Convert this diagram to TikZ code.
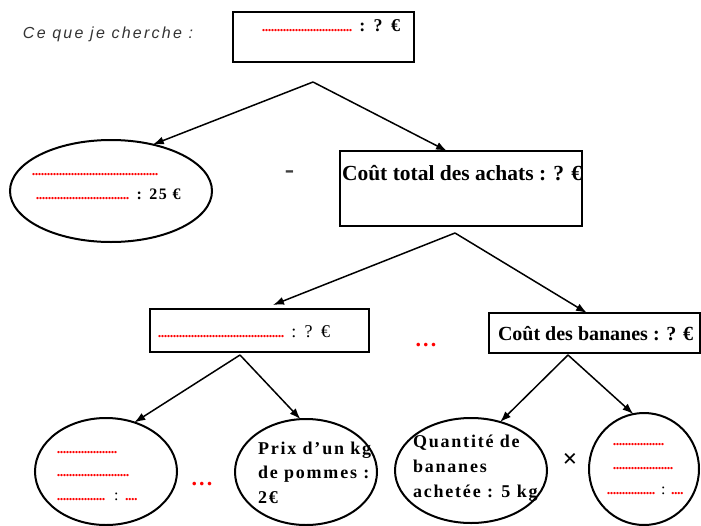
\documentclass[tikz,border=0pt]{standalone}
\usepackage{fontspec}
\setmainfont{Liberation Serif}
\newfontfamily\lsf[LetterSpace=10]{Liberation Serif}
\newfontfamily\itf[LetterSpace=14]{Liberation Sans}
\usetikzlibrary{arrows.meta,shapes.geometric}
\newcommand{\rdots}[1]{{\color{red}\bfseries\fontsize{14}{14}\selectfont\hbox to #1{\leaders\hbox to 3pt{\hss.\hss}\hfill}}}
\tikzset{
  box/.style={draw, rectangle, line width=2pt, inner sep=0pt, outer sep=0pt},
  ell/.style={draw, ellipse, line width=2pt, inner sep=0pt, outer sep=0pt},
  lbl/.style={anchor=base west, inner sep=0pt, outer sep=0pt},
  arr/.style={-{Latex[length=11pt,width=8pt]}, line width=1.5pt},
  bigb/.style={font=\lsf\bfseries\fontsize{18}{24.5}\selectfont},
}
\begin{document}
\begin{tikzpicture}[x=1pt,y=-1pt]
\useasboundingbox (0,0) rectangle (701,525);
% shapes
\node[box, line width=2.5pt, minimum width=181pt, minimum height=50pt] (b1) at (323.5,37) {};
\node[ell, minimum width=202pt, minimum height=102pt] (e1) at (111,191) {};
\node[box, minimum width=242pt, minimum height=75pt] (b2) at (461,188.5) {};
\node[box, minimum width=219pt, minimum height=43pt] (b3) at (259.5,330.5) {};
\node[box, minimum width=211pt, minimum height=40pt] (b4) at (594.5,333) {};
\node[ell, minimum width=142pt, minimum height=107pt] (e5) at (106,471.5) {};
\node[ell, minimum width=142pt, minimum height=106pt] (e6) at (306,472) {};
\node[ell, minimum width=152pt, minimum height=105pt] (e7) at (471,470.5) {};
\node[ell, minimum width=110pt, minimum height=112pt] (e8) at (644,469) {};
% branch points
\coordinate (a1) at (313,82);
\coordinate (a2) at (455,233);
\coordinate (a3) at (240,355);
\coordinate (a4) at (568,355);
% connectors
\draw[arr] (a1) -- (e1.48);
\draw[arr] (a1) -- ([xshift=-14pt]b2.north);
\draw[arr] (a2) -- ([xshift=13.5pt,yshift=4pt]b3.north);
\draw[arr] (a2) -- ([xshift=-7.5pt]b4.north);
\draw[arr] (a3) -- (e5.60);
\draw[arr] (a3) -- (e6.96);
\draw[arr] (a4) -- (e7.59);
\draw[arr] (a4) -- (e8.101);
% texts
\node[lbl, font=\itf\itshape\fontsize{16}{16}\selectfont, text=black!80] (q) at (23,38) {Ce que je cherche :};
\node[lbl, bigb] (t1) at (262,31) {\rdots{91pt} : ? €};
\node[lbl] (t2) at (32,175) {\rdots{127pt}};
\node[lbl, font=\lsf\bfseries\fontsize{16}{16}\selectfont] (t3) at (36,199) {\rdots{95pt} : 25 €};
\node[anchor=base, inner sep=0pt, text=black!75, font=\bfseries\fontsize{28}{28}\selectfont] (minus) at (289.5,178) {-};
\node[lbl, font=\bfseries\fontsize{21.5}{21.5}\selectfont] (t4) at (342,180) {Coût total des achats : ? €};
\node[lbl, font=\lsf\fontsize{18}{18}\selectfont] (t5) at (158,337) {\rdots{127pt} : ? €};
\node[anchor=base, inner sep=0pt, text=red, font=\lsf\bfseries\fontsize{22}{22}\selectfont] (rd1) at (426,346) {...};
\node[lbl, font=\bfseries\fontsize{20}{20}\selectfont] (t6) at (498,340) {Coût des bananes : ? €};
\node[lbl, align=left, font=\fontsize{16}{23.5}\selectfont] (t7) at (57,500) {\rdots{62pt}\\\rdots{74pt}\\\rdots{50pt}\hspace{7pt}:\hspace{7pt}\rdots{14pt}};
\node[anchor=base, inner sep=0pt, text=red, font=\lsf\bfseries\fontsize{22}{22}\selectfont] (rd2) at (202,485) {...};
\node[lbl, align=left, bigb] (t8) at (258,503) {Prix d’un kg\\de pommes :\\2€};
\node[lbl, align=left, font=\lsf\bfseries\fontsize{18}{25}\selectfont] (t9) at (413,497) {Quantité de\\bananes\\achetée : 5 kg};
\node[inner sep=0pt, font=\bfseries\fontsize{26}{26}\selectfont] (times) at (570,460) {×};
\node[lbl, align=left, font=\fontsize{16}{24.5}\selectfont] (t10) at (607,494) {\hspace*{6pt}\rdots{52pt}\\\hspace*{6pt}\rdots{62pt}\\\rdots{48pt}\hspace{6pt}:\hspace{6pt}\rdots{14pt}};
\end{tikzpicture}
\end{document}
